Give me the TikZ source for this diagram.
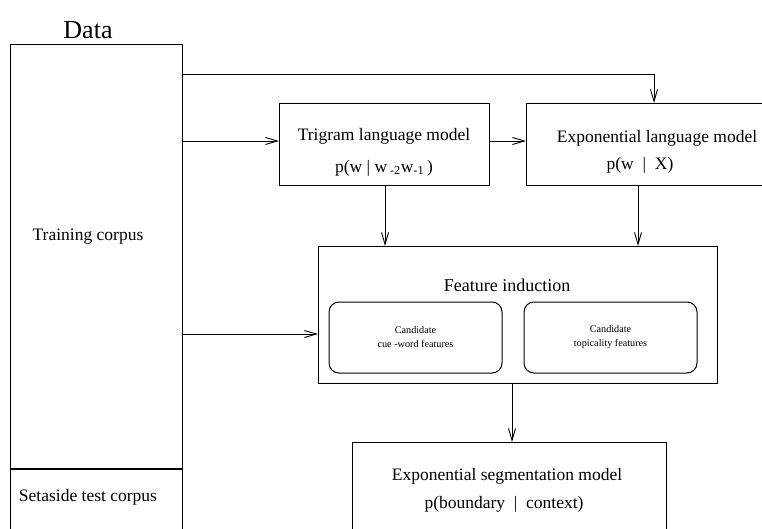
\documentclass[tikz,border=0pt]{standalone}
\usepackage{fontspec}
\setmainfont{Liberation Serif}
\usetikzlibrary{arrows.meta,calc}
\tikzset{
  box/.style={draw, line width=1.1pt, rectangle, inner sep=0pt, anchor=north west},
  rbox/.style={draw, line width=1pt, rectangle, rounded corners=10pt, inner sep=0pt, align=center, font=\fontsize{10.2}{14}\selectfont},
  txt/.style={inner sep=0pt, font=\fontsize{17.5}{20}\selectfont},
  arr/.style={line width=0.9pt, -{Straight Barb[length=12pt,width=7pt,line width=0.9pt]}}
}
\begin{document}
\begin{tikzpicture}[x=1pt,y=-1pt]
\useasboundingbox (0,0) rectangle (762,529);
\clip (0,0) rectangle (762,529);
% Data
\node[inner sep=0pt, font=\fontsize{26}{30}\selectfont] (datalbl) at (88,30) {Data};
\node[box, minimum width=172pt, minimum height=560pt] (data) at (10,44) {};
\draw[line width=1.1pt] (10,469) -- (182,469);
\node[txt] (train) at (88,237) {Training corpus};
\node[txt] (setaside) at (88,497) {Setaside test corpus};
% Trigram
\node[box, minimum width=210pt, minimum height=82pt] (tri) at (279,103) {};
\node[txt] (tri1) at (384,136) {Trigram language model};
\node[txt] (tri2) at (384,168) {p(w | w\,\textsubscript{-2}w\textsubscript{-1}\,)};
% Exponential LM
\node[box, minimum width=260pt, minimum height=82pt] (exp) at (526,103) {};
\node[txt] (exp1) at (657,138) {Exponential language model};
\node[txt] (exp2) at (640,165) {p(w \ | \ X)};
% Feature induction
\node[box, minimum width=399pt, minimum height=137pt] (feat) at (318,246) {};
\node[txt, font=\fontsize{18}{20}\selectfont] (feat1) at (507,285) {Feature induction};
\node[rbox, minimum width=173pt, minimum height=71pt] (cue) at (415.5,337.5) {Candidate\\cue -word features};
\node[rbox, minimum width=173pt, minimum height=71pt] (top) at (610.5,337.5) {Candidate\\topicality features};
% Segmentation
\node[box, minimum width=314pt, minimum height=140pt] (seg) at (352,442) {};
\node[txt] (seg1) at (507,476) {Exponential segmentation model};
\node[txt] (seg2) at (504,504) {p(boundary \ | \ context)};
% connectors
\coordinate (etop) at ($(exp.north west)+(128,0)$);
\draw[arr] (data.east |- 0,74) -| (etop);
\draw[arr] (data.east |- 0,141) -- (tri.west |- 0,141);
\draw[arr] (tri.east |- 0,141) -- (exp.west |- 0,141);
\draw[arr] (data.east |- 0,334) -- (feat.west |- 0,334);
\draw[arr] (tri.south -| 385,0) -- (feat.north -| 385,0);
\draw[arr] (exp.south -| 638,0) -- (feat.north -| 638,0);
\draw[arr] (feat.south -| 512,0) -- (seg.north -| 512,0);
\end{tikzpicture}
\end{document}
